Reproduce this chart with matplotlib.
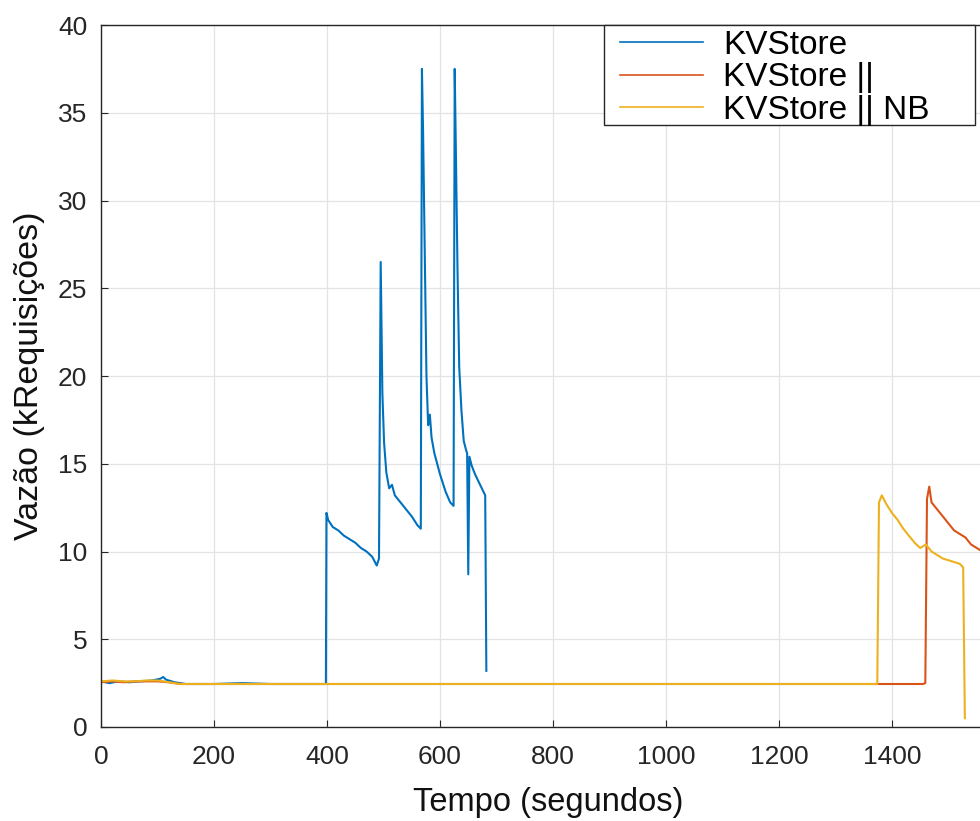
import matplotlib
matplotlib.use('Agg')
import matplotlib.pyplot as plt
from matplotlib.patches import Rectangle

# KVStore (blue)
t_kv = [0, 15, 30, 50, 70, 90, 105, 110, 115, 130, 150, 200, 250, 300, 350, 398,
        399, 402, 410, 420, 430, 440, 450, 460, 470, 480, 488, 492,
        495, 498, 501, 505, 510, 515, 520, 530, 540, 550, 560, 566,
        568, 570, 573, 576, 579, 582, 585, 590, 600, 610, 618, 624,
        626, 628, 631, 634, 638, 642, 646, 648, 650, 652, 656, 662, 668, 674, 680, 682]
v_kv = [2.6, 2.5, 2.6, 2.55, 2.6, 2.65, 2.75, 2.85, 2.7, 2.55, 2.45, 2.45, 2.5, 2.45, 2.45, 2.45,
        12.2, 11.8, 11.4, 11.2, 10.9, 10.7, 10.5, 10.2, 10.0, 9.7, 9.2, 9.6,
        26.5, 19.0, 16.2, 14.5, 13.6, 13.8, 13.2, 12.8, 12.4, 12.0, 11.5, 11.3,
        37.5, 34.0, 27.0, 20.0, 17.2, 17.8, 16.5, 15.6, 14.4, 13.4, 12.8, 12.6,
        37.5, 33.0, 26.0, 20.5, 18.0, 16.3, 15.8, 15.6, 8.7, 15.4, 14.9, 14.4, 14.0, 13.6, 13.2, 3.2]

# KVStore || (red)
t_par = [0, 20, 40, 60, 80, 100, 120, 140, 160, 300, 500, 700, 900, 1100, 1300, 1455, 1459,
         1462, 1466, 1470, 1480, 1490, 1500, 1510, 1520, 1530, 1540, 1550, 1560, 1580]
v_par = [2.55, 2.6, 2.55, 2.6, 2.6, 2.6, 2.55, 2.45, 2.45, 2.45, 2.45, 2.45, 2.45, 2.45, 2.45, 2.45, 2.5,
         13.0, 13.7, 12.8, 12.4, 12.0, 11.6, 11.2, 11.0, 10.8, 10.4, 10.2, 10.0, 9.7]

# KVStore || NB (yellow)
t_nb = [0, 20, 40, 60, 80, 100, 120, 140, 160, 300, 500, 700, 900, 1100, 1300, 1374,
        1377, 1382, 1390, 1400, 1410, 1420, 1430, 1440, 1450, 1460, 1470, 1480, 1490, 1500, 1510, 1520, 1526, 1529]
v_nb = [2.6, 2.65, 2.6, 2.6, 2.65, 2.65, 2.55, 2.45, 2.45, 2.45, 2.45, 2.45, 2.45, 2.45, 2.45, 2.45,
        12.8, 13.2, 12.7, 12.2, 11.8, 11.3, 10.9, 10.5, 10.2, 10.4, 10.0, 9.8, 9.6, 9.5, 9.4, 9.3, 9.1, 0.5]

labels = ['KVStore', 'KVStore ||', 'KVStore || NB']
colors = ['#0072BD', '#D95319', '#EDB120']

plt.rcParams['font.family'] = ['Liberation Sans', 'DejaVu Sans']
axis_color = '#262626'

W, H = 980, 821
fig = plt.figure(figsize=(W / 100, H / 100), dpi=100)
ax = fig.add_axes([0.1031, 0.1145, 0.912, 0.855])

ax.plot(t_kv, v_kv, color=colors[0], lw=1.5, label=labels[0])
ax.plot(t_par, v_par, color=colors[1], lw=1.5, label=labels[1])
ax.plot(t_nb, v_nb, color=colors[2], lw=1.5, label=labels[2])

ax.set_xlim(0, 1582)
ax.set_ylim(0, 40)
ax.set_xticks(range(0, 1600, 200))
ax.set_yticks(range(0, 45, 5))
ax.grid(True, color='#e3e3e3', lw=0.9)
ax.set_axisbelow(True)
ax.tick_params(direction='in', length=5, labelsize=19, colors=axis_color)
ax.tick_params(axis='x', pad=13)
ax.tick_params(axis='y', pad=10)
for s in ax.spines.values():
    s.set_color(axis_color)
    s.set_linewidth(1.0)

ax.set_xlabel('Tempo (segundos)', fontsize=23.5, color='#111111', labelpad=13)
ax.set_ylabel('Vazão (kRequisições)', fontsize=24.5, color='#111111', labelpad=9)

# legend box drawn separately, MATLAB style (extra room on the right)
box = Rectangle((604 / W, 1 - 125 / H), (975 - 604) / W, 100 / H,
                transform=fig.transFigure, facecolor='white',
                edgecolor=axis_color, lw=1.0, zorder=4)
fig.patches.append(box)

leg = fig.legend(loc='upper left', bbox_to_anchor=(618 / W, 1 - 28 / H),
                 borderaxespad=0, frameon=False,
                 fontsize=24, handlelength=2.5, handletextpad=0.6,
                 labelspacing=0.05, borderpad=0.05)
leg.set_zorder(5)
for line in leg.get_lines():
    line.set_linewidth(1.2)

fig.savefig('out.png', dpi=100)
